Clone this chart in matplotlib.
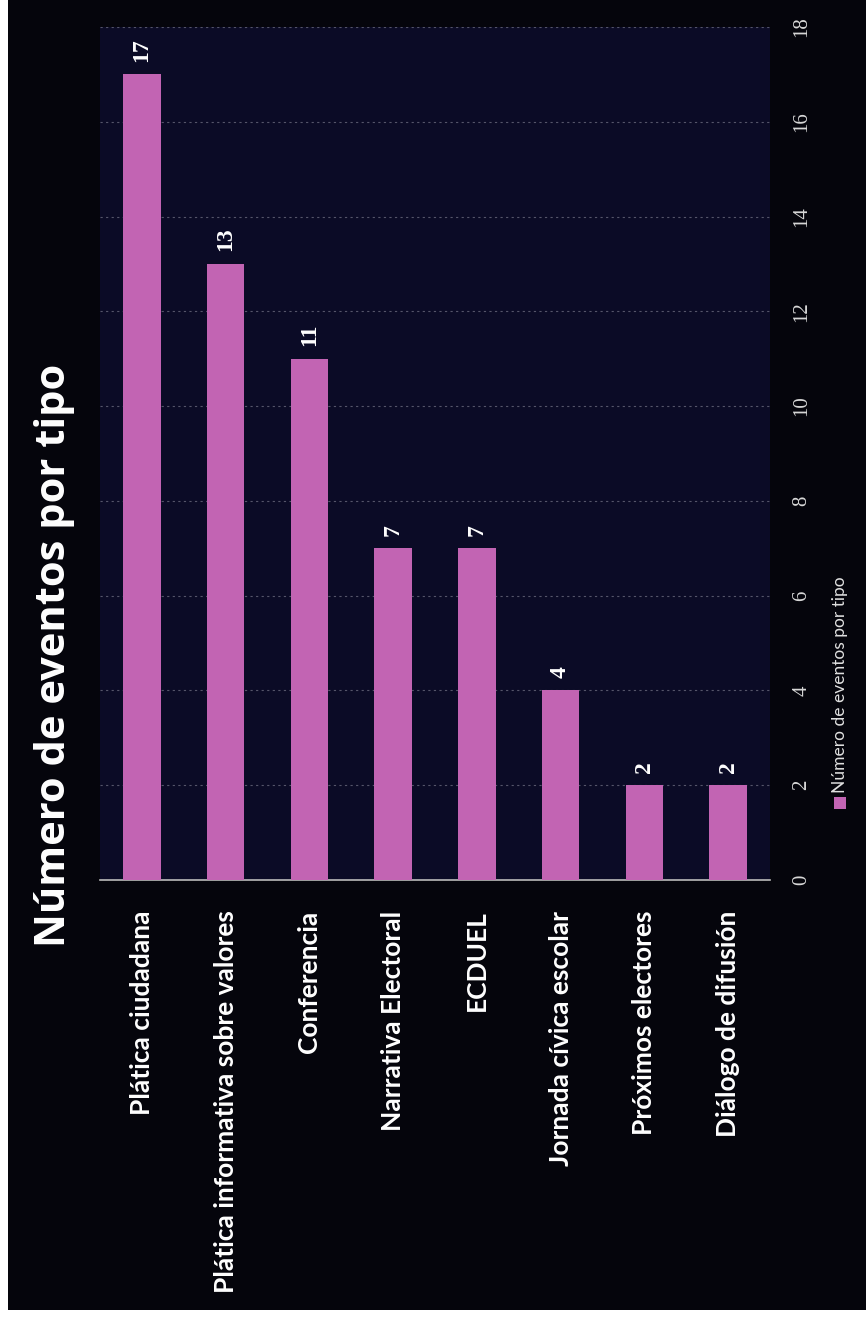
import matplotlib
matplotlib.use("Agg")
import matplotlib.pyplot as plt
from matplotlib.patches import Rectangle

categories = ["Plática ciudadana", "Plática informativa sobre valores", "Conferencia",
              "Narrativa Electoral", "ECDUEL", "Jornada cívica escolar",
              "Próximos electores", "Diálogo de difusión"]
values = [17, 13, 11, 7, 7, 4, 2, 2]
ticks = [0, 2, 4, 6, 8, 10, 12, 14, 16, 18]
title = "Número de eventos por tipo"
series_name = "Número de eventos por tipo"

bar_color = "#c264b3"

fig = plt.figure(figsize=(8.66, 13.18), dpi=100, facecolor="white")
# dark slide background inside thin white scan border
fig.patches.append(Rectangle((8 / 866, 8 / 1318), 1, 1, transform=fig.transFigure,
                             facecolor="#05050c", edgecolor="none", zorder=-10))

ax = fig.add_axes([100 / 866, 1 - 880 / 1318, 670 / 866, 853 / 1318])
ax.set_facecolor("#0b0b26")

x = range(len(categories))
ax.bar(x, values, width=0.45, color=bar_color, zorder=3)
ax.set_xlim(-0.5, len(categories) - 0.5)
ax.set_ylim(0, 18)

# value axis on the right, rotated labels
ax.yaxis.tick_right()
ax.set_yticks(ticks)
ax.set_yticklabels([str(t) for t in ticks], rotation=90, va="center",
                   color="#d8d8d8", fontsize=15, family="Liberation Serif")
ax.tick_params(axis="y", length=0, pad=16)
ax.grid(axis="y", color="#55556a", linestyle=(0, (2, 3)), linewidth=0.8, zorder=1)

ax.set_xticks(list(x))
ax.set_xticklabels(categories, rotation=90, ha="center", va="top",
                   color="white", fontsize=19, family="Lato", fontweight="bold")
ax.tick_params(axis="x", length=0, pad=22)

for s in ["top", "left", "right"]:
    ax.spines[s].set_visible(False)
ax.spines["bottom"].set_color("#bbbbbb")
ax.spines["bottom"].set_linewidth(1.2)

for i, v in enumerate(values):
    ax.annotate(str(v), (i, v), xytext=(0, 9), textcoords="offset points",
                rotation=90, ha="center", va="bottom", color="white",
                fontsize=17, family="Liberation Serif", fontweight="bold")

fig.text(55 / 866, 1 - 655 / 1318, title, rotation=90, ha="center", va="center",
         color="white", fontsize=30, family="Open Sans", fontweight="bold")

# legend drawn rotated
fig.patches.append(Rectangle((834 / 866, 1 - 809 / 1318), 12 / 866, 12 / 1318,
                             transform=fig.transFigure, facecolor=bar_color,
                             edgecolor="none"))
fig.text(840 / 866, 1 - 793 / 1318, series_name, rotation=90, ha="center", va="bottom",
         color="#e0e0e0", fontsize=12.5, family="Lato")

fig.savefig("out.png", dpi=100, facecolor=fig.get_facecolor())
